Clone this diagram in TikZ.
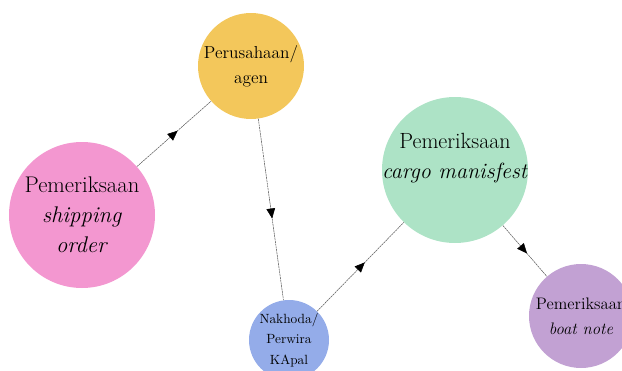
\documentclass[tikz,border=0pt]{standalone}
\usetikzlibrary{arrows.meta,decorations.markings}

\definecolor{pinkc}{HTML}{F397D0}
\definecolor{yellowc}{HTML}{F3C75B}
\definecolor{greenc}{HTML}{ADE3C6}
\definecolor{bluec}{HTML}{94ACE9}
\definecolor{purplec}{HTML}{C2A1D3}

\begin{document}
\begin{tikzpicture}[x=0.75pt, y=-0.75pt,
			bubble/.style={circle, draw=none, inner sep=0pt, text=black},
			flow/.style={draw=black!65, line width=0.4pt, dash pattern=on 1.6pt off 0.5pt,
				decoration={markings, mark=at position 0.55 with {\arrow[black]{Triangle[length=7.5pt,width=6.5pt]}}},
				postaction={decorate}}]
			\useasboundingbox (0,0) rectangle (622,371);
			\node[bubble, fill=pinkc, minimum size=109.5pt,
				label={[align=center, font=\fontsize{17}{22.5}\selectfont]center:Pemeriksaan\\\textit{shipping}\\\textit{order}}] (u0) at (82, 215) {};
			\node[bubble, fill=yellowc, minimum size=79.5pt,
				label={[align=center, font=\fontsize{13}{19}\selectfont]center:Perusahaan/\\agen}] (u1) at (251, 66) {};
			\node[bubble, fill=bluec, minimum size=60pt,
				label={[align=center, font=\fontsize{10}{15.4}\selectfont]center:Nakhoda/\\Perwira\\KApal}] (u2) at (289, 340) {};
			\node[bubble, fill=greenc, minimum size=109.5pt,
				label={[align=center, yshift=9pt, font=\fontsize{16.5}{22.5}\selectfont]center:Pemeriksaan\\\textit{cargo manisfest}}] (u3) at (455, 170) {};
			\node[bubble, fill=purplec, minimum size=78pt,
				label={[align=center, font=\fontsize{12.5}{19}\selectfont]center:Pemeriksaan\\\textit{boat note}}] (u4) at (581, 316) {};

			\draw[flow] (u0) -- (u1);
			\draw[flow] (u1) -- (u2);
			\draw[flow] (u2) -- (u3);
			\draw[flow] (u3) -- (u4);
\end{tikzpicture}
\end{document}
